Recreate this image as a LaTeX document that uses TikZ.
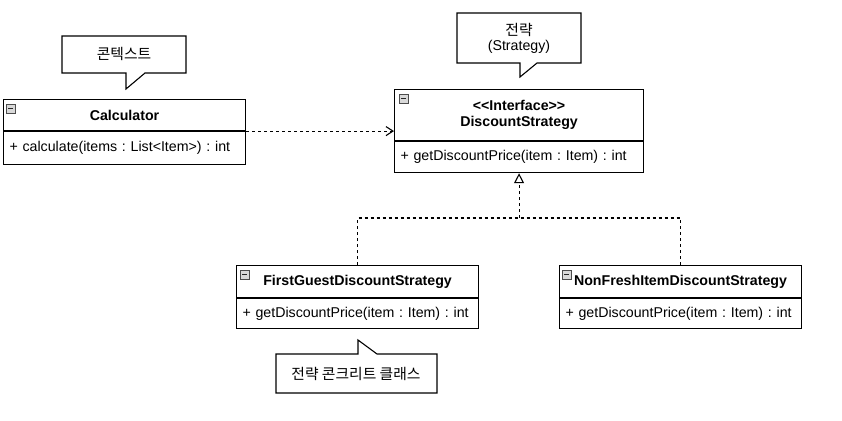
\documentclass[tikz,border=0pt]{standalone}
\usepackage{fontspec}
\setmainfont{Liberation Sans}
\newfontfamily\krfont{Noto Sans CJK KR}
\usetikzlibrary{arrows.meta,calc}
\frenchspacing
\tikzset{
  classhead/.style={draw=black, line width=1.1pt, fill=white, anchor=north west, inner sep=0pt, font=\fontsize{14.2}{16.5}\selectfont\bfseries, align=center},
  classbody/.style={draw=black, line width=1.1pt, fill=white, anchor=north west, inner ysep=0pt, inner xsep=6pt, font=\fontsize{14.2}{16.5}\selectfont, align=left},
  callout/.style={draw=black, line width=1.1pt, fill=white},
  calltext/.style={font=\fontsize{14.8}{17}\selectfont\krfont, align=center, inner sep=0pt},
  calltextlat/.style={font=\fontsize{14.2}{17}\selectfont, align=center, inner sep=0pt},
  deparrow/.style={line width=1.1pt, dash pattern=on 3pt off 3pt, -{Straight Barb[length=7pt,width=9pt]}},
  realline/.style={line width=1.1pt, dash pattern=on 3pt off 3pt},
  realarrow/.style={line width=1.1pt, dash pattern=on 3pt off 3pt, -{Triangle[open,length=10pt,width=10pt,fill=white]}},
  iconbox/.style={draw=gray!60!black, fill=gray!30, line width=0.9pt},
}
\newcommand\collapseicon[2]{%
  \draw[iconbox] ($(#1.north west)+(#2,5)$) rectangle ++(9,9);
  \draw[line width=1.5pt, black!85] ($(#1.north west)+(#2,9.5)+(2,0)$) -- ++(5,0);
}
\begin{document}
\begin{tikzpicture}[x=1pt,y=-1pt]
\useasboundingbox (0,0) rectangle (842,420);

% Calculator
\node[classhead, minimum width=242, minimum height=31] (calchead) at (3,99) {Calculator};
\node[classbody, text width=230, minimum height=33] (calcbody) at (calchead.south west) {+ calculate(items : List<Item>) : int};
\collapseicon{calchead}{3}

% DiscountStrategy
\node[classhead, minimum width=249, minimum height=51] (dshead) at (394,89) {<{}<Interface>{}>\\DiscountStrategy};
\node[classbody, text width=237, minimum height=31] (dsbody) at (dshead.south west) {+ getDiscountPrice(item : Item) : int};
\collapseicon{dshead}{5}

% FirstGuestDiscountStrategy
\node[classhead, minimum width=242, minimum height=32] (fghead) at (236,265) {FirstGuestDiscountStrategy};
\node[classbody, text width=230, minimum height=30] (fgbody) at (fghead.south west) {+ getDiscountPrice(item : Item) : int};
\collapseicon{fghead}{4}

% NonFreshItemDiscountStrategy
\node[classhead, minimum width=242, minimum height=32] (nfhead) at (559,265) {NonFreshItemDiscountStrategy};
\node[classbody, text width=230, minimum height=30] (nfbody) at (nfhead.south west) {+ getDiscountPrice(item : Item) : int};
\collapseicon{nfhead}{3}

% dependency
\draw[deparrow] (calchead.south east) -- (dshead.west |- calchead.south east);

% realization
\coordinate (junction) at (dsbody.south |- 0,218);
\draw[realline] (fghead.north) |- (junction) -| (nfhead.north);
\draw[realarrow] (junction) -- (dsbody.south);

% callouts
\draw[callout] (62,36) -- (186,36) -- (186,73) -- (145,73) -- (126,89) -- (126,73) -- (62,73) -- cycle;
\node[calltext] (ctx) at (124,54) {콘텍스트};

\draw[callout] (457,13) -- (581,13) -- (581,63) -- (537,63) -- (520,77) -- (520,63) -- (457,63) -- cycle;
\node[calltext] (strat) at (519,30) {전략};
\node[calltextlat] (stratlat) at (519,47) {(Strategy)};

\draw[callout] (276,354) -- (358,354) -- (358,340) -- (377,354) -- (437,354) -- (437,393) -- (276,393) -- cycle;
\node[calltext] (concrete) at (356,374) {전략 콘크리트 클래스};
\end{tikzpicture}
\end{document}
